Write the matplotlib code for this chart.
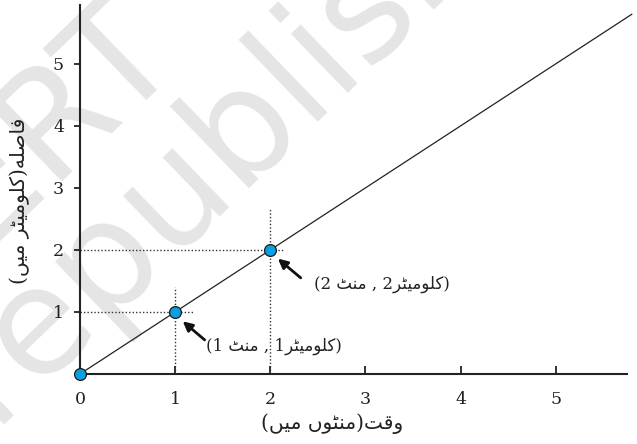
import matplotlib
matplotlib.use('Agg')
import matplotlib.pyplot as plt

# data: distance covered vs time (uniform speed)
time_pts = [0, 1, 2]
dist_pts = [0, 1, 2]
line_time = [0, 5.8]
line_dist = [0, 5.8]
xticks = [0, 1, 2, 3, 4, 5]
yticks = [1, 2, 3, 4, 5]

# Urdu letters -> (isolated, final, initial, medial) presentation forms
FORMS = {
    'ا': ('\ufe8d', '\ufe8e', None, None),
    'و': ('\ufeed', '\ufeee', None, None),
    'ر': ('\ufead', '\ufeae', None, None),
    'ں': ('\ufb9e', '\ufb9f', None, None),
    'ف': ('\ufed1', '\ufed2', '\ufed3', '\ufed4'),
    'ص': ('\ufeb9', '\ufeba', '\ufebb', '\ufebc'),
    'ل': ('\ufedd', '\ufede', '\ufedf', '\ufee0'),
    'ہ': ('\ufee9', '\ufeea', '\ufeeb', '\ufeec'),  # DejaVu lacks the Urdu heh forms
    'ک': ('\ufb8e', '\ufb8f', '\ufb90', '\ufb91'),
    'م': ('\ufee1', '\ufee2', '\ufee3', '\ufee4'),
    'ی': ('\ufbfc', '\ufbfd', '\ufbfe', '\ufbff'),
    'ٹ': ('\ufb66', '\ufb67', '\ufb68', '\ufb69'),
    'ق': ('\ufed5', '\ufed6', '\ufed7', '\ufed8'),
    'ت': ('\ufe95', '\ufe96', '\ufe97', '\ufe98'),
    'ن': ('\ufee5', '\ufee6', '\ufee7', '\ufee8'),
}


def shape(word):
    # join letters and put them in visual (left to right) order
    out = []
    for i, ch in enumerate(word):
        iso, fin, ini, med = FORMS[ch]
        joins_prev = i > 0 and FORMS[word[i - 1]][2] is not None
        joins_next = i < len(word) - 1 and ini is not None
        if joins_prev and joins_next:
            out.append(med)
        elif joins_prev:
            out.append(fin)
        elif joins_next:
            out.append(ini)
        else:
            out.append(iso)
    return ''.join(reversed(out))


km = shape('کلومیٹر')
mnt = shape('منٹ')
xlabel = '(' + shape('میں') + ' ' + shape('منٹوں') + ')' + shape('وقت')
ylabel = '(' + shape('میں') + ' ' + km + ')' + shape('فاصلہ')
label1 = '(1 ' + mnt + ' , 1' + km + ')'
label2 = '(2 ' + mnt + ' , 2' + km + ')'

fonts = ['DejaVu Serif', 'DejaVu Sans']

fig = plt.figure(figsize=(6.37, 4.44), dpi=100)

# faint watermark behind the chart
wm = dict(rotation=44, rotation_mode='anchor', ha='left', va='baseline',
          fontsize=108, color='#e5e5e5', family='DejaVu Sans', zorder=-5)
fig.text(-0.276, 0.104, 'NCERT', **wm)
fig.text(-0.014, 0.044, 'republished', **wm)

ax = fig.add_axes([80 / 637, 1 - 374 / 444, 547 / 637, 369 / 444])
ax.patch.set_alpha(0)
ax.set_xlim(0, 5.75)
ax.set_ylim(0, 5.95)

ax.spines['top'].set_visible(False)
ax.spines['right'].set_visible(False)
ax.spines['left'].set_linewidth(1.5)
ax.spines['bottom'].set_linewidth(1.5)
ax.spines['left'].set_color('#222222')
ax.spines['bottom'].set_color('#222222')

ax.set_xticks(xticks)
ax.set_yticks(yticks)
ax.tick_params(axis='x', direction='in', length=6, width=1.3, pad=12,
               labelsize=12.5, colors='#222222')
ax.tick_params(axis='y', direction='out', length=4.5, width=1.3, pad=7,
               labelsize=12.5, colors='#222222')
for lab in ax.get_xticklabels() + ax.get_yticklabels():
    lab.set_family(fonts)

# dotted guide lines
dot = dict(color='#333333', lw=1, linestyle=(0, (1, 1.5)))
ax.plot([0, 1.19], [1, 1], **dot)
ax.plot([1, 1], [0, 1.4], **dot)
ax.plot([0, 2.14], [2, 2], **dot)
ax.plot([2, 2], [0, 2.68], **dot)

ax.plot(line_time, line_dist, color='#222222', lw=0.9, clip_on=False)
ax.plot(time_pts, dist_pts, 'o', ms=8.5, mfc='#0aa0e0', mec='#1a1a1a',
        mew=0.9, clip_on=False, zorder=5)

arrow = dict(arrowstyle='-|>', color='#111111', lw=2, mutation_scale=14,
             shrinkA=0, shrinkB=0)
ax.annotate('', xy=(1.08, 0.85), xytext=(1.31, 0.55), arrowprops=arrow)
ax.annotate('', xy=(2.08, 1.86), xytext=(2.32, 1.55), arrowprops=arrow)
ax.text(1.32, 0.44, label1, ha='left', va='center', fontsize=12,
        family=fonts, color='#222222')
ax.text(2.46, 1.44, label2, ha='left', va='center', fontsize=12,
        family=fonts, color='#222222')

ax.text(2.65, -0.8, xlabel, ha='center', va='center', fontsize=14.5,
        family=fonts, color='#222222')
ax.text(-0.63, 2.8, ylabel, ha='center', va='center', rotation=90,
        fontsize=14.5, family=fonts, color='#222222')

fig.savefig('out.png', dpi=100)
